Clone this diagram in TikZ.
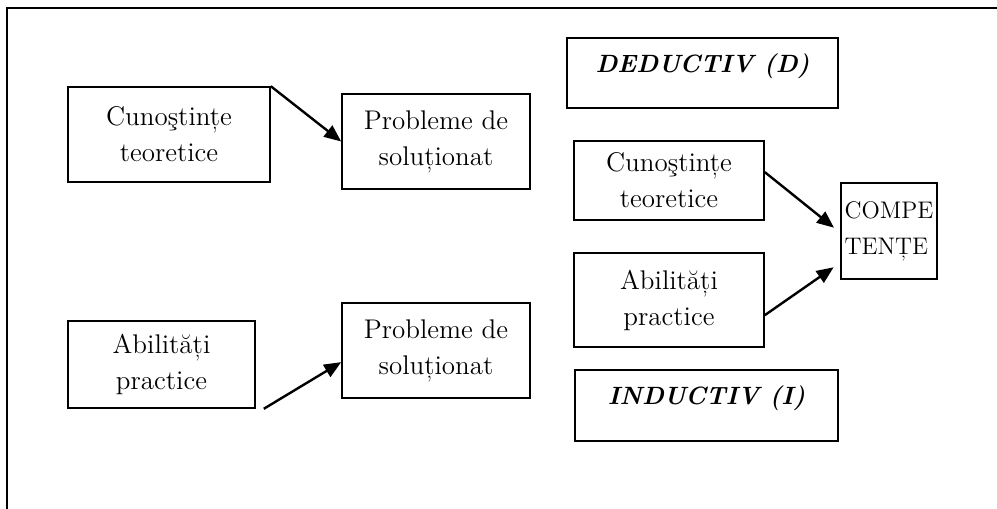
\documentclass[tikz,border=0pt]{standalone}
\usepackage{tikz}
\usetikzlibrary{arrows.meta}
\tikzset{
	kutie/.style={draw, line width=0.8pt, align=center, inner sep=0pt, font=\fontsize{13.5}{18}\selectfont},
	metoda/.style={kutie, font=\fontsize{12.5}{16}\selectfont\bfseries\itshape, text depth=10pt},
	sageata/.style={line width=1.2pt, -{Triangle[length=8.5pt,width=7pt]}}
}

\begin{document}
\begin{tikzpicture}[x=0.5pt, y=-0.5pt]
	% 1px = 0.5pt, y grows downwards
	\useasboundingbox (0,0) rectangle (997,509);
	% frame (only top and left are visible)
	\draw[line width=1pt] (7,509) -- (7,8) -- (997,8);
	
	% left side
	\node[kutie, minimum width=101pt, minimum height=47.5pt] (teo1) at (169,134.5) {Cunoştințe\\teoretice};
	\node[kutie, minimum width=94pt, minimum height=47.5pt] (prob1) at (436,141.5) {Probleme de\\soluționat};
	\node[kutie, minimum width=93.5pt, minimum height=43.5pt] (abil1) at (161.5,364.5) {Abilități\\practice};
	\node[kutie, minimum width=94pt, minimum height=47.5pt] (prob2) at (436,350.5) {Probleme de\\soluționat};
	
	% right side
	\node[metoda, minimum width=135.5pt, minimum height=35pt] (ded) at (702.5,73) {DEDUCTIV (D)};
	\node[kutie, minimum width=95pt, minimum height=39.5pt] (teo2) at (669,180.5) {Cunoştințe\\teoretice};
	\node[kutie, minimum width=95pt, minimum height=47pt] (abil2) at (669,300) {Abilități\\practice};
	\node[kutie, align=left, font=\fontsize{12}{18}\selectfont, minimum width=48pt, minimum height=48pt] (comp) at (889,231) {COMPE\\TENȚE};
	\node[metoda, minimum width=131.5pt, minimum height=35.5pt] (ind) at (706.5,405.5) {INDUCTIV (I)};
	
	% arrows
	\draw[sageata] (teo1.north east) -- (prob1.west);
	\draw[sageata] ([xshift=4pt]abil1.south east) -- (prob2.187);
	\draw[sageata, shorten >=4pt] (teo2.5) -- (comp.182);
	\draw[sageata, shorten >=4pt] (abil2.351) -- (comp.213);
\end{tikzpicture}
\end{document}
